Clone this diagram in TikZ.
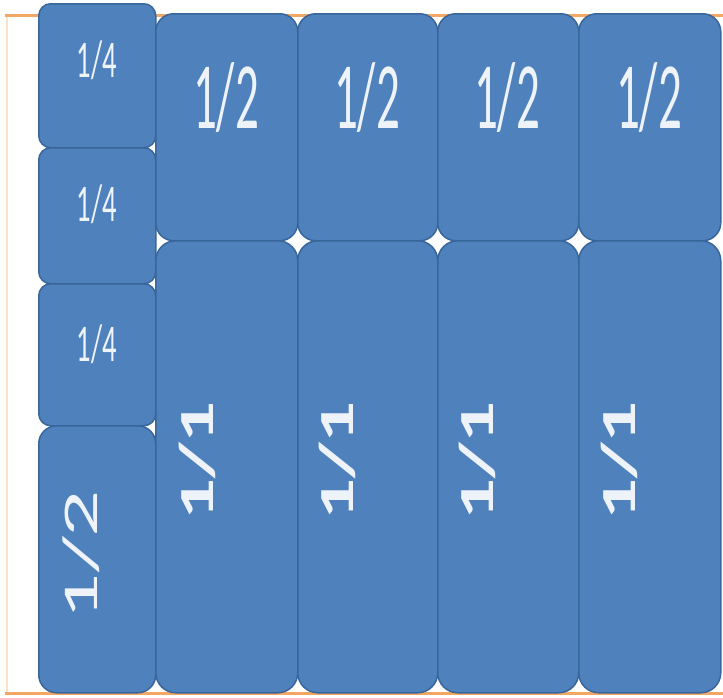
\documentclass[tikz,border=0pt]{standalone}
\usepackage{fontspec}
\setmainfont{Carlito}
\usepackage{graphicx}
\definecolor{boxfill}{HTML}{4F81BD}
\definecolor{boxline}{HTML}{39669A}
\definecolor{txtc}{HTML}{EEF3FA}
\definecolor{orangeline}{HTML}{F2A765}
\definecolor{orangefaint}{HTML}{FBE0C6}
\begin{document}
\begin{tikzpicture}[x=1pt,y=-1pt,
  cell/.style={draw=boxline,fill=boxfill,line width=1.5pt,inner sep=0pt,anchor=north west},
  txt/.style={text=txtc,inner sep=0pt,anchor=base,font=\fontsize{10}{12}\selectfont},
  vtxt/.style={txt,rotate=90}]
\useasboundingbox (0,0) rectangle (723,697);
\fill[white] (0,0) rectangle (723,697);
% orange guide lines
\draw[orangefaint,line width=1.5pt] (7,15) -- (7,693);
\draw[orangeline,line width=3pt] (5,15) -- (723,15);
\draw[orangeline,line width=3pt] (5,693) -- (723,693);
% left column
\node[cell,rounded corners=12pt,minimum width=117pt,minimum height=144pt] (q1) at (38,3) {};
\node[cell,rounded corners=12pt,minimum width=117pt,minimum height=136pt] (q2) at (38,147) {};
\node[cell,rounded corners=12pt,minimum width=117pt,minimum height=142pt] (q3) at (38,283) {};
\node[cell,rounded corners=18pt,minimum width=117pt,minimum height=267pt] (h0) at (38,425) {};
% top halves
\node[cell,rounded corners=18pt,minimum width=142pt,minimum height=227pt] (h1) at (155,13) {};
\node[cell,rounded corners=18pt,minimum width=140pt,minimum height=227pt] (h2) at (297,13) {};
\node[cell,rounded corners=18pt,minimum width=141pt,minimum height=227pt] (h3) at (437,13) {};
\node[cell,rounded corners=18pt,minimum width=142pt,minimum height=227pt] (h4) at (578,13) {};
% wholes
\node[cell,rounded corners=20pt,minimum width=142pt,minimum height=452pt] (w1) at (155,240) {};
\node[cell,rounded corners=20pt,minimum width=140pt,minimum height=452pt] (w2) at (297,240) {};
\node[cell,rounded corners=20pt,minimum width=141pt,minimum height=452pt] (w3) at (437,240) {};
\node[cell,rounded corners=20pt,minimum width=142pt,minimum height=452pt] (w4) at (578,240) {};
% labels
\node[txt] (tq1) at (97,77) {\scalebox{2.86}[5.3]{1/4}};
\node[txt] (tq2) at (97,221) {\scalebox{2.86}[5.3]{1/4}};
\node[txt] (tq3) at (97,361) {\scalebox{2.86}[5.3]{1/4}};
\node[vtxt] (th0) at (97,555) {\scalebox{9.3}[5.0]{1/2}};
\node[txt] (th1) at (226,128) {\scalebox{4.7}[9.5]{1/2}};
\node[txt] (th2) at (367,128) {\scalebox{4.7}[9.5]{1/2}};
\node[txt] (th3) at (507,128) {\scalebox{4.7}[9.5]{1/2}};
\node[txt] (th4) at (649,128) {\scalebox{4.7}[9.5]{1/2}};
\node[vtxt] (tw1) at (213,461) {\scalebox{8.3}[4.9]{\bfseries 1/1}};
\node[vtxt] (tw2) at (353,461) {\scalebox{8.3}[4.9]{\bfseries 1/1}};
\node[vtxt] (tw3) at (493,461) {\scalebox{8.3}[4.9]{\bfseries 1/1}};
\node[vtxt] (tw4) at (635,461) {\scalebox{8.3}[4.9]{\bfseries 1/1}};
\end{tikzpicture}
\end{document}
